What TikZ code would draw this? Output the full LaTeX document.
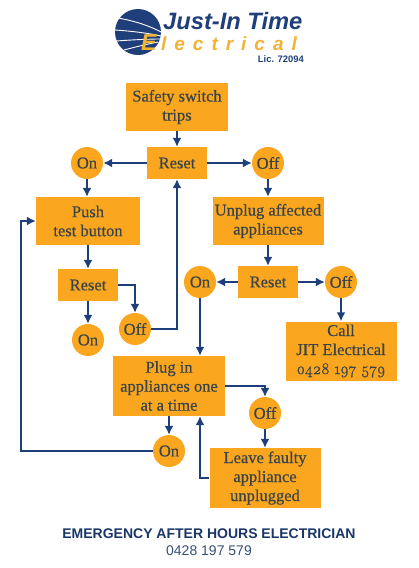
\documentclass[tikz,border=0pt]{standalone}
\usepackage{fontspec}
\setmainfont[FakeBold=0.5]{Liberation Serif}
\setsansfont{Liberation Sans}
\newfontfamily\numfont[Numbers=OldStyle,FakeBold=1.2]{Latin Modern Roman}
\usepackage{xcolor}
\usetikzlibrary{arrows.meta}
\definecolor{navy1}{HTML}{1F3F7A}
\definecolor{orange1}{HTML}{FAA61E}
\definecolor{ink1}{HTML}{3A4448}
\definecolor{gold1}{HTML}{F2B233}

\begin{document}
\begin{tikzpicture}[
  x=1pt,
  y=-1pt,
  box/.style={rectangle, fill=orange1, text=ink1, inner sep=0pt, align=center, font=\fontsize{16.5}{19}\selectfont},
  onoff/.style={circle, fill=orange1, text=ink1, minimum size=32pt, inner sep=0pt, font=\fontsize{16.5}{19}\selectfont},
  flow/.style={-{Latex[length=9pt,width=9pt]}, draw=navy1, line width=1.6pt},
  streak/.style={draw=white, line width=0.9pt},
  logotext/.style={text=navy1, inner sep=0pt}
]
\useasboundingbox (0,0) rectangle (418,568);

\fill[navy1] (138,32) circle[radius=23];
\draw[streak] (118,18) .. controls (135,21) and (150,26) .. (161,32);
\draw[streak] (115,30) .. controls (130,31) and (148,33) .. (161,36);
\draw[streak] (116,41) .. controls (130,40) and (148,39) .. (160,39);
\draw[streak] (124,50) .. controls (135,47) and (148,44) .. (158,42);
\node[logotext, font=\sffamily\bfseries\itshape\fontsize{23.7}{24}\selectfont, anchor=west] (logo1) at (163,21) {Just-In Time};
\node[logotext, text=gold1, font=\sffamily\bfseries\itshape\fontsize{23}{23}\selectfont, anchor=west] (logo2) at (141,43) {E};
\node[logotext, text=gold1, font=\sffamily\bfseries\itshape\fontsize{19}{19}\selectfont\addfontfeature{LetterSpace=42}, anchor=west] (logo3) at (161,44) {lectrical};
\node[logotext, font=\sffamily\bfseries\fontsize{9.4}{10}\selectfont, anchor=east] (lic) at (304,59) {Lic. 72094};

\node[box, minimum width=102pt, minimum height=48pt] (safety) at (177,107) {Safety switch\\trips};
\node[box, minimum width=60pt, minimum height=32pt] (reset1) at (177,163) {Reset};
\node[onoff] (on1) at (87,163) {On};
\node[onoff] (off2) at (268,163) {Off};
\node[box, minimum width=104pt, minimum height=48pt] (push) at (88,221) {Push\\test button};
\node[box, minimum width=111pt, minimum height=48pt] (unplug) at (268,221) {Unplug affected\\appliances};
\node[box, minimum width=60pt, minimum height=32pt] (reset2) at (88,285) {Reset};
\node[onoff] (on2) at (88,340) {On};
\node[onoff] (off1) at (135,329) {Off};
\node[box, minimum width=60pt, minimum height=32pt] (reset3) at (268,282) {Reset};
\node[onoff] (on3) at (200,282) {On};
\node[onoff] (off3) at (341,282) {Off};
\node[box, minimum width=111pt, minimum height=59pt] (call) at (341,351) {Call\\JIT Electrical\\{\numfont\fontsize{16}{19}\selectfont 0428 197 579}};
\node[box, minimum width=112pt, minimum height=60pt] (plug) at (169,386) {Plug in\\appliances one\\at a time};
\node[onoff] (off4) at (265,413) {Off};
\node[onoff] (on4) at (169,451) {On};
\node[box, minimum width=111pt, minimum height=60pt] (leave) at (265,478) {Leave faulty\\appliance\\unplugged};
\coordinate (bend) at (21,451);

\draw[flow] (safety) -- (reset1);
\draw[flow] (reset1) -- (on1);
\draw[flow] (reset1) -- (off2);
\draw[flow] (on1) -- (on1 |- push.north);
\draw[flow] (off2) -- (unplug);
\draw[flow] (push.south -| reset2) -- (reset2);
\draw[flow] (reset2) -- (on2);
\draw[flow] (reset2.east) -| (off1.north);
\draw[flow] (off1.east) -| (reset1.south);
\draw[flow] (unplug) -- (reset3);
\draw[flow] (reset3) -- (on3);
\draw[flow] (reset3) -- (off3);
\draw[flow] (off3) -- (call);
\draw[flow] (on3) -- (on3 |- plug.north);
\draw[flow] (plug.east) -| (off4.north);
\draw[flow] (off4) -- (off4 |- leave.north);
\draw[flow] (leave.west) -| (on3 |- plug.south);
\draw[flow] (plug.south -| on4) -- (on4);
\draw[flow] (on4.west) -- (bend) |- (push.west);

\node[font=\sffamily\bfseries\fontsize{14}{15}\selectfont, text=navy1!85!black, inner sep=0pt] (title) at (209,534) {EMERGENCY AFTER HOURS ELECTRICIAN};
\node[font=\sffamily\fontsize{14}{15}\selectfont, text=navy1!75!gray, inner sep=0pt] (phone) at (209,551) {0428 197 579};
\end{tikzpicture}
\end{document}
